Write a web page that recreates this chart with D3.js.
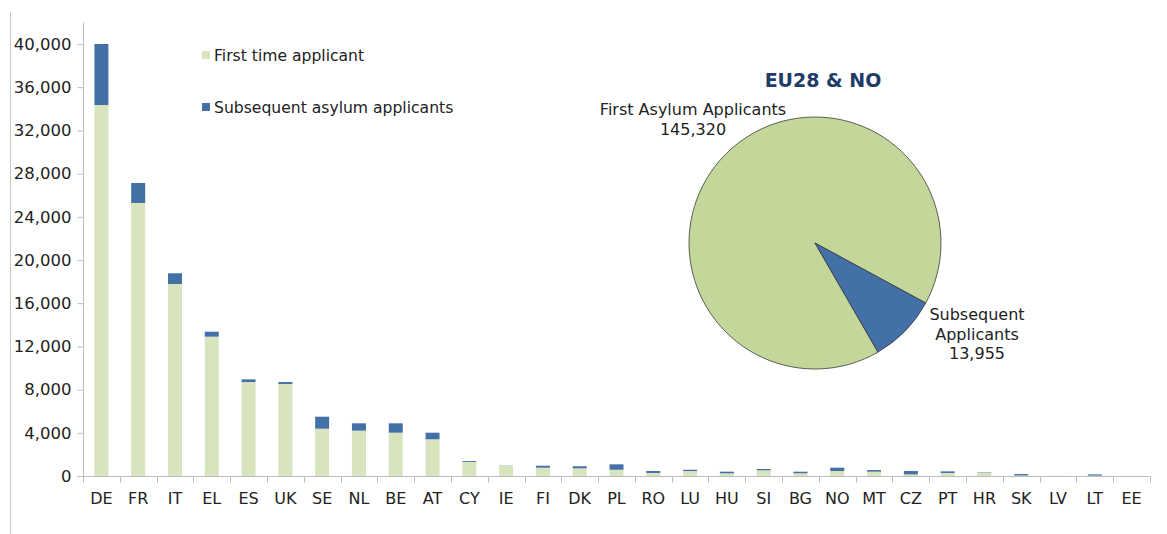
<!DOCTYPE html>
<html>
<head>
<meta charset="utf-8">
<script src="https://cdn.jsdelivr.net/npm/d3@7"></script>
<style>
  body { margin: 0; background: #fff; }
  svg { display: block; font-family: "DejaVu Sans", Verdana, sans-serif; }
</style>
</head>
<body>
<svg id="chart" width="1167" height="534"></svg>
<script>
// countries, in the order shown
const countries = ['DE','FR','IT','EL','ES','UK','SE','NL','BE','AT','CY','IE','FI','DK','PL',
  'RO','LU','HU','SI','BG','NO','MT','CZ','PT','HR','SK','LV','LT','EE'];
const firstTime = [34350,25280,17780,12900,8700,8520,4380,4200,4010,3400,1300,950,770,710,580,
  280,460,250,530,250,460,400,150,280,300,50,20,40,0];
const subsequent = [5650,1850,990,460,250,180,1110,680,870,610,80,20,180,190,500,
  180,120,150,120,150,310,150,310,150,40,130,0,110,0];
const yTicks = [0,4000,8000,12000,16000,20000,24000,28000,32000,36000,40000];

const pieLabels = ['First Asylum Applicants', 'Subsequent Applicants'];
const pieValues = [145320, 13955];

const barColors = { first: '#d7e4bd', sub: '#4470a8' };
const pieColors = ['#c4d79b', '#4470a8'];

const svg = d3.select('#chart');

// left frame line
svg.append('line')
  .attr('x1', 10.5).attr('x2', 10.5).attr('y1', 12).attr('y2', 534)
  .attr('stroke', '#c8c8c8');

const x = d3.scaleBand().domain(countries).range([83, 1150]).paddingInner(0.62).paddingOuter(0.31);
const y = d3.scaleLinear().domain([0, 42000]).range([476, 22.4]);

const rows = countries.map((c, i) => ({ country: c, first: firstTime[i], sub: subsequent[i] }));
const series = d3.stack().keys(['first', 'sub'])(rows);

svg.append('g').selectAll('g')
  .data(series)
  .join('g')
  .attr('fill', d => barColors[d.key])
  .selectAll('rect')
  .data(d => d)
  .join('rect')
  .attr('x', d => x(d.data.country))
  .attr('width', x.bandwidth())
  .attr('y', d => y(d[1]))
  .attr('height', d => y(d[0]) - y(d[1]));

// y axis
const yAxis = svg.append('g')
  .attr('transform', 'translate(83.5,0)')
  .call(d3.axisLeft(y).tickValues(yTicks).tickSize(6).tickPadding(6).tickFormat(d3.format(',')));
yAxis.select('.domain').attr('stroke', '#bdbdbd').attr('d', 'M0,22.4V476');
yAxis.selectAll('.tick line').attr('stroke', '#bdbdbd');
yAxis.selectAll('.tick text').attr('font-size', '16.5px').attr('fill', '#222')
  .attr('font-family', '"DejaVu Sans", Verdana, sans-serif');

// x axis with ticks between categories
const xAxis = svg.append('g').attr('transform', 'translate(0,476.5)');
xAxis.append('line').attr('x1', 77).attr('x2', 1150).attr('stroke', '#bdbdbd');
const bounds = countries.map(c => x(c) + x.bandwidth() / 2 - x.step() / 2)
  .concat([x(countries[countries.length - 1]) + x.bandwidth() / 2 + x.step() / 2]);
xAxis.selectAll('.xt').data(bounds).join('line')
  .attr('x1', d => Math.round(d) + 0.5).attr('x2', d => Math.round(d) + 0.5)
  .attr('y1', 0).attr('y2', 6).attr('stroke', '#bdbdbd');
xAxis.selectAll('.xl').data(countries).join('text')
  .attr('x', d => x(d) + x.bandwidth() / 2)
  .attr('y', 27)
  .attr('text-anchor', 'middle')
  .attr('font-size', '16px')
  .attr('fill', '#222')
  .text(d => d);

// legend
const legend = [
  { label: 'First time applicant', color: barColors.first, y: 55 },
  { label: 'Subsequent asylum applicants', color: barColors.sub, y: 107 }
];
const lg = svg.append('g').selectAll('g').data(legend).join('g')
  .attr('transform', d => `translate(202,${d.y})`);
lg.append('rect').attr('x', 0).attr('y', -4).attr('width', 8).attr('height', 8).attr('fill', d => d.color);
lg.append('text').attr('x', 12).attr('y', 6).attr('font-size', '15.6px').attr('fill', '#222')
  .text(d => d.label);

// pie
const cx = 815, cy = 243, r = 126;
const start = 150 * Math.PI / 180;
const pie = d3.pie().sort(null).startAngle(start).endAngle(start + 2 * Math.PI);
const arc = d3.arc().innerRadius(0).outerRadius(r);
const pg = svg.append('g').attr('transform', `translate(${cx},${cy})`);
pg.selectAll('path').data(pie(pieValues)).join('path')
  .attr('d', arc)
  .attr('fill', (d, i) => pieColors[i])
  .attr('stroke', '#3a3a3a')
  .attr('stroke-width', 0.8);

svg.append('text')
  .attr('x', 823).attr('y', 87)
  .attr('text-anchor', 'middle')
  .attr('font-size', '19px')
  .attr('font-weight', 'bold')
  .attr('fill', '#1f3b68')
  .text('EU28 & NO');

const fmt = d3.format(',');
const pl1 = svg.append('text').attr('text-anchor', 'middle').attr('font-size', '16px').attr('fill', '#222');
pl1.append('tspan').attr('x', 693).attr('y', 115).text(pieLabels[0]);
pl1.append('tspan').attr('x', 693).attr('y', 135).text(fmt(pieValues[0]));

const pl2 = svg.append('text').attr('text-anchor', 'middle').attr('font-size', '16px').attr('fill', '#222');
const parts = pieLabels[1].split(' ');
pl2.append('tspan').attr('x', 977).attr('y', 320).text(parts[0]);
pl2.append('tspan').attr('x', 977).attr('y', 340).text(parts[1]);
pl2.append('tspan').attr('x', 977).attr('y', 359).text(fmt(pieValues[1]));
</script>
</body>
</html>
